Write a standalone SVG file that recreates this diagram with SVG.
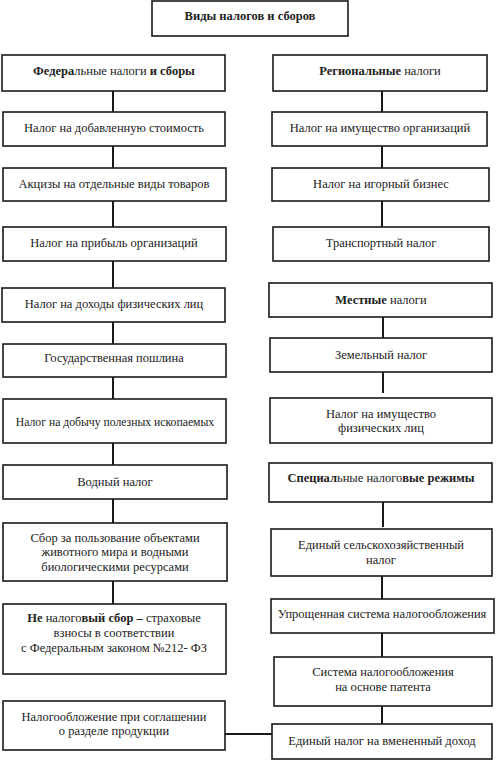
<svg xmlns="http://www.w3.org/2000/svg" width="497" height="760" viewBox="0 0 497 760">
<style>
rect{fill:#fff;stroke:#1a1a1a;stroke-width:1.6}
text{font-family:'Liberation Serif','DejaVu Serif','Times New Roman',serif;font-size:12.5px;fill:#222;text-anchor:middle}
.b{font-weight:bold}
#connectors line{stroke:#1a1a1a;stroke-width:2}
</style>
<rect x="0" y="0" width="497" height="760" style="fill:#fff;stroke:none"/>
<g id="connectors">
<line x1="113" y1="91" x2="113" y2="112"/>
<line x1="113" y1="146" x2="113" y2="168"/>
<line x1="113" y1="201" x2="113" y2="227"/>
<line x1="113" y1="261" x2="113" y2="288"/>
<line x1="113" y1="322" x2="113" y2="344"/>
<line x1="113" y1="377" x2="113" y2="399"/>
<line x1="113" y1="443" x2="113" y2="465"/>
<line x1="113" y1="499" x2="113" y2="523"/>
<line x1="113" y1="581" x2="113" y2="604"/>
<line x1="382" y1="91" x2="382" y2="112"/>
<line x1="382" y1="146" x2="382" y2="168"/>
<line x1="382" y1="201" x2="382" y2="227"/>
<line x1="383" y1="317" x2="383" y2="338"/>
<line x1="383" y1="372" x2="383" y2="393"/>
<line x1="383" y1="502" x2="383" y2="527"/>
<line x1="382" y1="576" x2="382" y2="599"/>
<line x1="382" y1="633" x2="382" y2="657"/>
<line x1="382" y1="706" x2="382" y2="724"/>
<line x1="225" y1="734" x2="272" y2="734"/>
</g>
<g id="title"><rect x="152" y="1" width="196" height="35"/><text x="250" y="19.5" class="b">Виды налогов и сборов</text></g>
<g id="federal"><rect x="2" y="55" width="223" height="36"/><text x="114" y="74.5"><tspan class="b">Федера</tspan>льные налоги <tspan class="b">и сборы</tspan></text></g>
<g id="regional"><rect x="273" y="55" width="214" height="36"/><text x="380" y="74.5"><tspan class="b">Региональные</tspan> налоги</text></g>
<g id="nds"><rect x="3" y="112" width="222" height="34"/><text x="114" y="131.5">Налог на добавленную стоимость</text></g>
<g id="imush-org"><rect x="272" y="112" width="215" height="34"/><text x="380" y="131.5">Налог на имущество организаций</text></g>
<g id="akcizy"><rect x="3" y="168" width="223" height="33"/><text x="114" y="187.5">Акцизы на отдельные виды товаров</text></g>
<g id="igorny"><rect x="272" y="168" width="217" height="33"/><text x="381" y="187.5">Налог на игорный бизнес</text></g>
<g id="pribyl"><rect x="3" y="227" width="223" height="34"/><text x="114" y="246.5">Налог на прибыль организаций</text></g>
<g id="transport"><rect x="273" y="227" width="216" height="34"/><text x="381" y="246.5">Транспортный налог</text></g>
<g id="ndfl"><rect x="2" y="288" width="223" height="34"/><text x="114" y="307.5">Налог на доходы физических лиц</text></g>
<g id="mestnye"><rect x="269" y="283" width="223" height="34"/><text x="381" y="303.5"><tspan class="b">Местные</tspan> налоги</text></g>
<g id="gosposhlina"><rect x="3" y="344" width="223" height="33"/><text x="114" y="361.5">Государственная пошлина</text></g>
<g id="zemelny"><rect x="270" y="338" width="222" height="34"/><text x="381" y="358.5">Земельный налог</text></g>
<g id="ndpi"><rect x="3" y="399" width="223" height="44"/><text x="115" y="425.5" style="font-size:11.7px">Налог на добычу полезных ископаемых</text></g>
<g id="imush-fiz"><rect x="270" y="398" width="222" height="45"/><text x="381" y="417.5">Налог на имущество</text><text x="381" y="431.5">физических лиц</text></g>
<g id="vodny"><rect x="3" y="465" width="224" height="34"/><text x="115" y="485.5">Водный налог</text></g>
<g id="specialnye"><rect x="269" y="463" width="223" height="39"/><text x="381" y="481.5"><tspan class="b">Специал</tspan>ьные налого<tspan class="b">вые режимы</tspan></text></g>
<g id="sbor"><rect x="3" y="523" width="224" height="58"/><text x="115" y="541.5">Сбор за пользование объектами</text><text x="115" y="556">животного мира и водными</text><text x="115" y="570.5">биологическими ресурсами</text></g>
<g id="eshn"><rect x="271" y="529" width="221" height="47"/><text x="381" y="548.5">Единый сельскохозяйственный</text><text x="381" y="563.5">налог</text></g>
<g id="ne-nalog"><rect x="3" y="604" width="223" height="70"/><text x="114" y="621.5"><tspan class="b">Не</tspan> налого<tspan class="b">вый сбор –</tspan> страховые</text><text x="114" y="636.5">взносы в соответствии</text><text x="114" y="651.5">с Федеральным законом №212- ФЗ</text></g>
<g id="usn"><rect x="271" y="599" width="223" height="34"/><text x="382" y="617.5">Упрощенная система налогообложения</text></g>
<g id="patent"><rect x="274" y="657" width="218" height="49"/><text x="383" y="675.5">Система налогообложения</text><text x="383" y="690.5">на основе патента</text></g>
<g id="srp"><rect x="3" y="701" width="222" height="49"/><text x="114" y="720.5">Налогообложение при соглашении</text><text x="114" y="734.5">о разделе продукции</text></g>
<g id="envd"><rect x="272" y="724" width="220" height="35"/><text x="382" y="744.5">Единый налог на вмененный доход</text></g>
</svg>
